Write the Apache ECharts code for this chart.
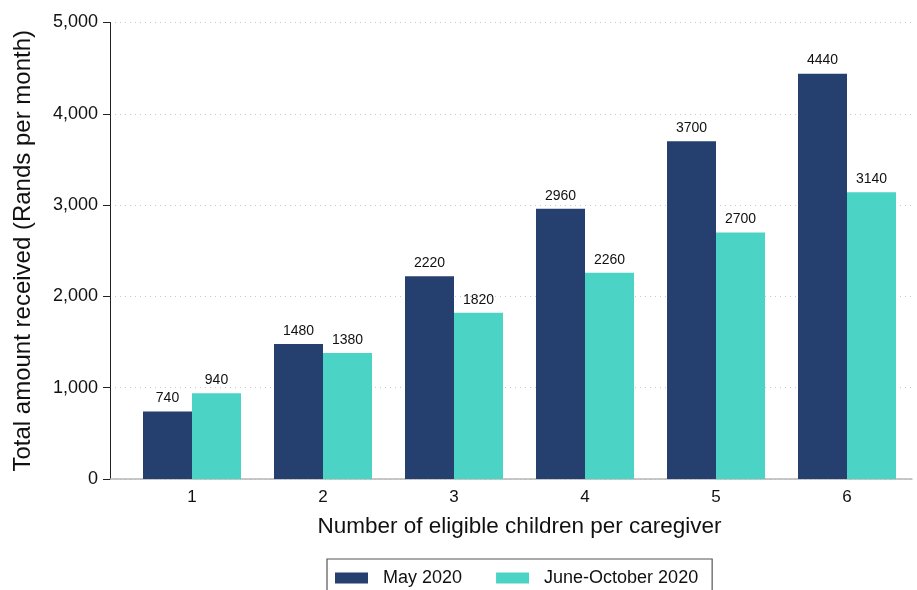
<!DOCTYPE html>
<html>
<head>
<meta charset="utf-8">
<script src="https://cdn.jsdelivr.net/npm/echarts@6/dist/echarts.min.js"></script>
<style>
html,body{margin:0;padding:0;background:#fff;}
#chart{width:917px;height:590px;}
</style>
</head>
<body>
<div id="chart"></div>
<script>
var categories = ['1', '2', '3', '4', '5', '6'];
var may2020 = [740, 1480, 2220, 2960, 3700, 4440];
var juneOct2020 = [940, 1380, 1820, 2260, 2700, 3140];
var yTicks = [0, 1000, 2000, 3000, 4000, 5000];

var FONT = 'Liberation Sans, Arial, Helvetica, sans-serif';
var chart = echarts.init(document.getElementById('chart'));
var option = {
  backgroundColor: '#ffffff',
  animation: false,
  textStyle: { fontFamily: FONT },
  grid: [
    { left: 110, right: 5, top: 22.5, bottom: 111, containLabel: false, outerBoundsMode: 'none' },
    { left: 126.5, right: 4.5, top: 22.5, bottom: 111, containLabel: false, outerBoundsMode: 'none' }
  ],
  xAxis: [
    {
      gridIndex: 0, type: 'value', min: 0, max: 1,
      axisLine: { show: true, lineStyle: { color: '#b5b5b5', width: 1.5 } },
      axisTick: { show: false }, axisLabel: { show: false }, splitLine: { show: false }
    },
    {
      gridIndex: 1, type: 'category', data: categories,
      axisLine: { show: false }, axisTick: { show: false },
      axisLabel: { color: '#111', fontSize: 17, margin: 10, fontFamily: FONT },
      name: 'Number of eligible children per caregiver',
      nameLocation: 'middle', nameGap: 36,
      nameTextStyle: { color: '#111', fontSize: 22.5, fontFamily: FONT }
    }
  ],
  yAxis: [
    {
      gridIndex: 0, type: 'value', min: yTicks[0], max: yTicks[yTicks.length - 1], interval: 1000,
      axisLine: { show: true, lineStyle: { color: '#222', width: 1 } },
      axisTick: { show: true, length: 7, lineStyle: { color: '#222' } },
      axisLabel: {
        color: '#111', fontSize: 18, margin: 12, fontFamily: FONT,
        formatter: function (v) { return v.toLocaleString('en-US'); }
      },
      splitLine: { show: true, lineStyle: { color: '#c8c8c8', type: [1, 4], width: 1 } },
      name: 'Total amount received (Rands per month)',
      nameLocation: 'middle', nameGap: 75, nameRotate: 90,
      nameTextStyle: { color: '#111', fontSize: 24, fontFamily: FONT }
    },
    {
      gridIndex: 1, type: 'value', min: 0, max: 5000, interval: 1000, show: false,
      splitLine: { show: false }
    }
  ],
  legend: {
    top: 559, left: 327,
    data: ['May 2020', 'June-October 2020'],
    itemWidth: 33, itemHeight: 11, itemGap: 34,
    padding: [10, 14, 30, 8],
    borderColor: '#555', borderWidth: 1.2,
    formatter: function (n) { return '  ' + n; },
    textStyle: { color: '#111', fontSize: 18, fontFamily: FONT },
    icon: 'rect'
  },
  series: [
    {
      name: 'May 2020', type: 'bar', xAxisIndex: 1, yAxisIndex: 1,
      data: may2020, barWidth: 49, barGap: '0%',
      itemStyle: { color: '#253f6e' },
      label: { show: true, position: 'top', distance: 6, color: '#111', fontSize: 14, fontFamily: FONT }
    },
    {
      name: 'June-October 2020', type: 'bar', xAxisIndex: 1, yAxisIndex: 1,
      data: juneOct2020, barWidth: 49, barGap: '0%',
      itemStyle: { color: '#4bd4c6' },
      label: { show: true, position: 'top', distance: 6, color: '#111', fontSize: 14, fontFamily: FONT }
    }
  ]
};
chart.setOption(option);
</script>
</body>
</html>
